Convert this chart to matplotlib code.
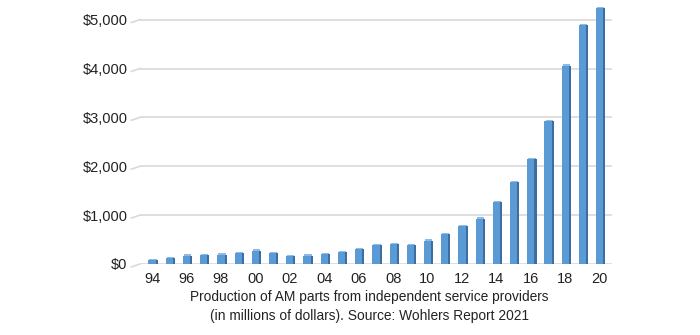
import matplotlib.pyplot as plt
import numpy as np

plt.rcParams['font.family'] = ['Liberation Sans', 'DejaVu Sans']

years = ['94', '95', '96', '97', '98', '99', '00', '01', '02', '03', '04', '05', '06',
         '07', '08', '09', '10', '11', '12', '13', '14', '15', '16', '17', '18', '19', '20']
revenue = [80, 120, 170, 185, 190, 225, 275, 220, 165, 170, 200, 245, 310,
           385, 405, 380, 480, 610, 770, 930, 1270, 1680, 2140, 2920, 4060, 4880, 5240]
yticks = [0, 1000, 2000, 3000, 4000, 5000]
ytick_labels = ['$0', '$1,000', '$2,000', '$3,000', '$4,000', '$5,000']

fig = plt.figure(figsize=(7, 3.35), dpi=100)
ax = fig.add_axes([0.2, 0.212, 0.674, 0.779])

x = np.arange(len(years))
w = 0.42
# front face and darker side face for a 3D look
ax.bar(x, revenue, width=w, color='#5b9bd5', zorder=3)
ax.bar(x + w / 2 + 0.06, revenue, width=0.12, color='#3d6e9f', zorder=3)
ax.bar(x + 0.06, [30] * len(x), bottom=np.array(revenue) - 5, width=w,
       color='#8dbbe6', zorder=2)

ax.set_ylim(0, 5340)
ax.set_xlim(-0.7, len(years) - 0.3)
ax.set_yticks(yticks)
ax.set_yticklabels(ytick_labels, fontsize=10.5, color='#222222')
ax.set_xticks(x[::2])
ax.set_xticklabels(years[::2], fontsize=10.5, color='#222222')
ax.tick_params(axis='x', length=0, pad=6)
ax.tick_params(axis='y', length=0, pad=9)
for s in ax.spines.values():
    s.set_visible(False)
ax.grid(axis='y', color='#d9d9d9', linewidth=1.2, zorder=0)

# short slanted stubs at the left end of each gridline
for t in yticks:
    ax.plot([-1.2, -0.7], [t - 60, t], color='#d9d9d9', linewidth=1.2,
            clip_on=False, zorder=0)

fig.text(0.528, 0.086, 'Production of AM parts from independent service providers\n'
         '(in millions of dollars). Source: Wohlers Report 2021',
         ha='center', va='center', fontsize=9.9, color='#222222', linespacing=1.45)

fig.savefig('out.png', dpi=100)
